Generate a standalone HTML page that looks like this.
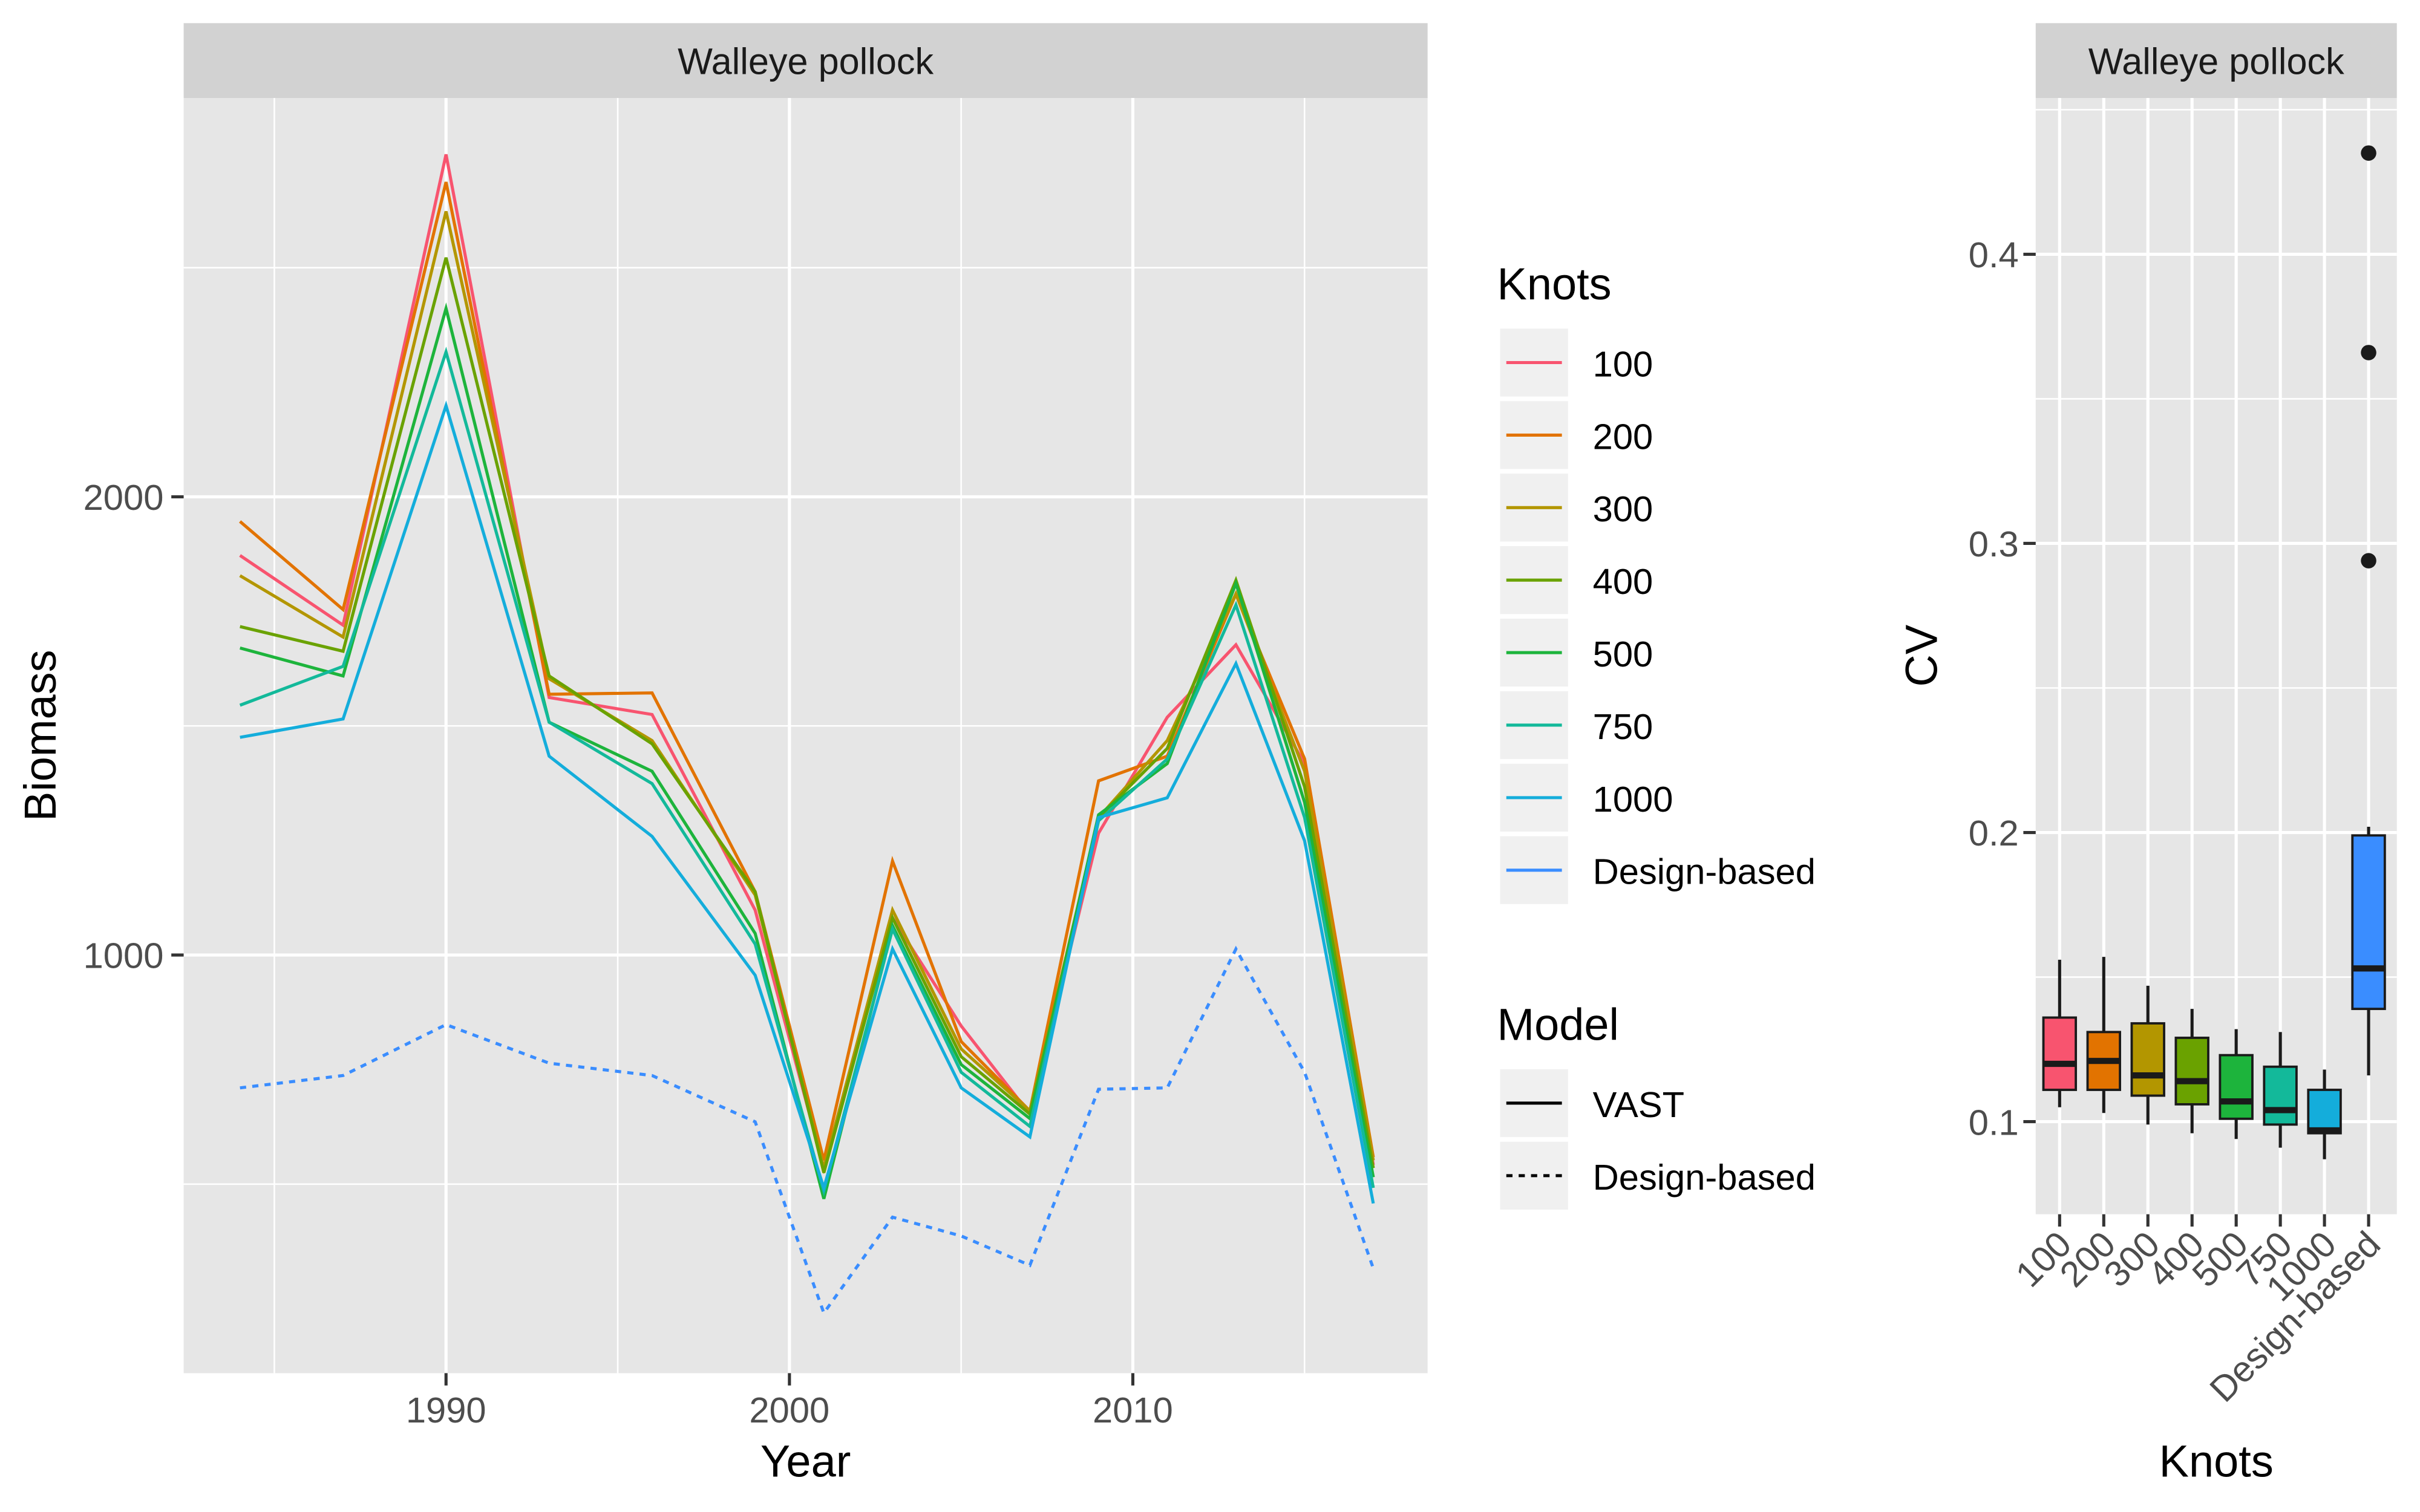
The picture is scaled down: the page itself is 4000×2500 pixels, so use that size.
<!DOCTYPE html>
<html><head><meta charset="utf-8"><style>
html,body{margin:0;padding:0;background:#fff;}
svg{display:block;font-family:"Liberation Sans",Arial,sans-serif;}
</style></head><body>
<svg id="c" width="4000" height="2500" viewBox="0 0 1568 980" preserveAspectRatio="none" xmlns="http://www.w3.org/2000/svg">
<g id="left"></g>
<g id="legend"></g>
<g id="right"></g>
</svg>
<script>
const years=[1984,1987,1990,1993,1996,1999,2001,2003,2005,2007,2009,2011,2013,2015,2017];
const seriesNames=["100","200","300","400","500","750","1000","Design-based"];
const seriesColors=["#F8546F","#E27300","#B39600","#6AA200","#1DB43C","#13B99A","#14ADDB","#3A8DFF"];
const s100=[1872,1720,2747,1562,1525,1098,535,1081,845,653,1266,1519,1677,1418,542];
const s200=[1946,1754,2687,1569,1572,1138,552,1205,811,660,1380,1434,1788,1428,559];
const s300=[1828,1694,2623,1603,1468,1131,535,1098,795,660,1300,1468,1788,1401,552];
const s400=[1717,1663,2522,1609,1461,1138,525,1081,778,653,1300,1451,1818,1367,535];
const s500=[1670,1609,2411,1508,1401,1047,468,1064,761,643,1306,1418,1811,1333,515];
const s750=[1545,1630,2316,1508,1374,1024,485,1057,744,626,1293,1428,1764,1300,492];
const s1000=[1475,1515,2199,1434,1259,956,492,1013,710,603,1300,1343,1636,1249,458];
const sDesign=[710,737,848,764,737,636,219,428,387,323,707,710,1013,744,316];
const biomassTicks=[1000,2000];
const yearTicks=[1990,2000,2010];
const cvCats=["100","200","300","400","500","750","1000","Design-based"];
const cvLow=[0.105,0.103,0.099,0.096,0.094,0.091,0.087,0.116];
const cvQ1=[0.111,0.111,0.109,0.106,0.101,0.099,0.096,0.139];
const cvMed=[0.120,0.121,0.116,0.114,0.107,0.104,0.097,0.153];
const cvQ3=[0.136,0.131,0.134,0.129,0.123,0.119,0.111,0.199];
const cvHigh=[0.156,0.157,0.147,0.139,0.132,0.131,0.118,0.202];
const cvOutliers=[[7,0.294],[7,0.366],[7,0.435]];
const cvTicks=[0.1,0.2,0.3,0.4];

const NS="http://www.w3.org/2000/svg";
function mk(p,t,a,txt){const e=document.createElementNS(NS,t);for(const k in a)e.setAttribute(k,a[k]);if(txt!==undefined)e.textContent=txt;p.appendChild(e);return e;}
const L=document.getElementById('left'),G=document.getElementById('legend'),R=document.getElementById('right');
const TF=23.4, AF=29, SF=24, LF=23.4;
const PANEL='#E6E6E6', STRIP='#D2D2D2', KEY='#F0F0F0';
// left panel
const px0=119,px1=925,py0=63.5,py1=890;
const xs=y=>289+(y-1990)*22.25;
const ys=v=>619-(v-1000)*0.297;
let e=mk(L,'rect',{x:px0,y:py0,width:px1-px0,height:py1-py0,fill:PANEL});

e=mk(L,'rect',{x:px0,y:15,width:px1-px0,height:py0-15,fill:STRIP});

e=mk(L,'text',{x:(px0+px1)/2,y:48,'text-anchor':'middle','font-size':SF,fill:'#1A1A1A'},'Walleye pollock');

[500,1500,2500].forEach(v=>{mk(L,'line',{x1:px0,x2:px1,y1:ys(v),y2:ys(v),stroke:'#fff','stroke-width':1});});
[1985,1995,2005,2015].forEach(v=>{mk(L,'line',{x1:xs(v),x2:xs(v),y1:py0,y2:py1,stroke:'#fff','stroke-width':1});});
biomassTicks.forEach(v=>{mk(L,'line',{x1:px0,x2:px1,y1:ys(v),y2:ys(v),stroke:'#fff','stroke-width':2});
 mk(L,'line',{x1:px0-8,x2:px0,y1:ys(v),y2:ys(v),stroke:'#333','stroke-width':2});
 e=mk(L,'text',{x:px0-13,y:ys(v)+8.5,'text-anchor':'end','font-size':TF,fill:'#4D4D4D'},String(v));
 });
yearTicks.forEach(v=>{mk(L,'line',{x1:xs(v),x2:xs(v),y1:py0,y2:py1,stroke:'#fff','stroke-width':2});
 mk(L,'line',{x1:xs(v),x2:xs(v),y1:py1,y2:py1+8,stroke:'#333','stroke-width':2});
 e=mk(L,'text',{x:xs(v),y:922,'text-anchor':'middle','font-size':TF,fill:'#4D4D4D'},String(v));
 });
e=mk(L,'text',{x:(px0+px1)/2,y:957,'text-anchor':'middle','font-size':AF,fill:'#000'},'Year');

e=mk(L,'text',{x:36,y:(py0+py1)/2,'text-anchor':'middle','font-size':AF,fill:'#000',transform:`rotate(-90 36 ${(py0+py1)/2})`},'Biomass');

const allS=[s100,s200,s300,s400,s500,s750,s1000];
allS.forEach((s,i)=>{const d=s.map((v,j)=>(j?'L':'M')+xs(years[j]).toFixed(1)+','+ys(v).toFixed(1)).join('');
 e=mk(L,'path',{d:d,fill:'none',stroke:seriesColors[i],'stroke-width':2});
 });
{const d=sDesign.map((v,j)=>(j?'L':'M')+xs(years[j]).toFixed(1)+','+ys(v).toFixed(1)).join('');
 e=mk(L,'path',{d:d,fill:'none',stroke:seriesColors[7],'stroke-width':2,'stroke-dasharray':'4,4'});
 }
// legend
e=mk(G,'text',{x:970,y:194,'font-size':AF,fill:'#000'},'Knots');

seriesNames.forEach((n,i)=>{const y=213+i*47;
 mk(G,'rect',{x:972,y:y,width:44,height:44,fill:KEY});
 mk(G,'line',{x1:976,x2:1012,y1:y+22,y2:y+22,stroke:seriesColors[i],'stroke-width':2});
 e=mk(G,'text',{x:1032,y:y+31,'font-size':LF,fill:'#000'},n);
 });
e=mk(G,'text',{x:970,y:674,'font-size':AF,fill:'#000'},'Model');

[["VAST",""],["Design-based","4,4"]].forEach((m,i)=>{const y=693+i*47;
 mk(G,'rect',{x:972,y:y,width:44,height:44,fill:KEY});
 const a={x1:976,x2:1012,y1:y+22,y2:y+22,stroke:'#000','stroke-width':2};if(m[1])a['stroke-dasharray']=m[1];
 mk(G,'line',a);
 e=mk(G,'text',{x:1032,y:y+31,'font-size':LF,fill:'#000'},m[0]);
 });
// right panel
const rx0=1319,rx1=1553,ry0=63.5,ry1=787;
const cx=i=>1334.5+i*28.6;
const cy=v=>727-(v-0.1)*1874;
e=mk(R,'rect',{x:rx0,y:ry0,width:rx1-rx0,height:ry1-ry0,fill:PANEL});

e=mk(R,'rect',{x:rx0,y:15,width:rx1-rx0,height:ry0-15,fill:STRIP});

e=mk(R,'text',{x:(rx0+rx1)/2,y:48,'text-anchor':'middle','font-size':SF,fill:'#1A1A1A'},'Walleye pollock');

[0.15,0.25,0.35,0.45].forEach(v=>mk(R,'line',{x1:rx0,x2:rx1,y1:cy(v),y2:cy(v),stroke:'#fff','stroke-width':1}));
cvTicks.forEach(v=>{mk(R,'line',{x1:rx0,x2:rx1,y1:cy(v),y2:cy(v),stroke:'#fff','stroke-width':2});
 mk(R,'line',{x1:rx0-8,x2:rx0,y1:cy(v),y2:cy(v),stroke:'#333','stroke-width':2});
 e=mk(R,'text',{x:rx0-11,y:cy(v)+8.5,'text-anchor':'end','font-size':TF,fill:'#4D4D4D'},v.toFixed(1));
 });
cvCats.forEach((c,i)=>{const x=cx(i);
 mk(R,'line',{x1:x,x2:x,y1:ry0,y2:ry1,stroke:'#fff','stroke-width':2});
 mk(R,'line',{x1:x,x2:x,y1:ry1,y2:ry1+8,stroke:'#333','stroke-width':2});
 e=mk(R,'text',{x:x+9,y:ry1+21,'text-anchor':'end','font-size':TF,fill:'#4D4D4D',transform:`rotate(-45 ${x+9} ${ry1+21})`},c);
 });
cvCats.forEach((c,i)=>{const x=cx(i),w=21;
 const g=mk(R,'g',{});
 
 mk(g,'line',{x1:x,x2:x,y1:cy(cvHigh[i]),y2:cy(cvLow[i]),stroke:'#1A1A1A','stroke-width':2});
 mk(g,'rect',{x:x-w/2,y:cy(cvQ3[i]),width:w,height:cy(cvQ1[i])-cy(cvQ3[i]),fill:seriesColors[i],stroke:'#1A1A1A','stroke-width':1.5});
 mk(g,'line',{x1:x-w/2,x2:x+w/2,y1:cy(cvMed[i]),y2:cy(cvMed[i]),stroke:'#1A1A1A','stroke-width':4});});
cvOutliers.forEach(o=>{e=mk(R,'circle',{cx:cx(o[0]),cy:cy(o[1]),r:5,fill:'#1A1A1A'});
 });
e=mk(R,'text',{x:(rx0+rx1)/2,y:957,'text-anchor':'middle','font-size':AF,fill:'#000'},'Knots');

e=mk(R,'text',{x:1255,y:425,'text-anchor':'middle','font-size':AF,fill:'#000',transform:'rotate(-90 1255 425)'},'CV');

</script>
</body></html>
